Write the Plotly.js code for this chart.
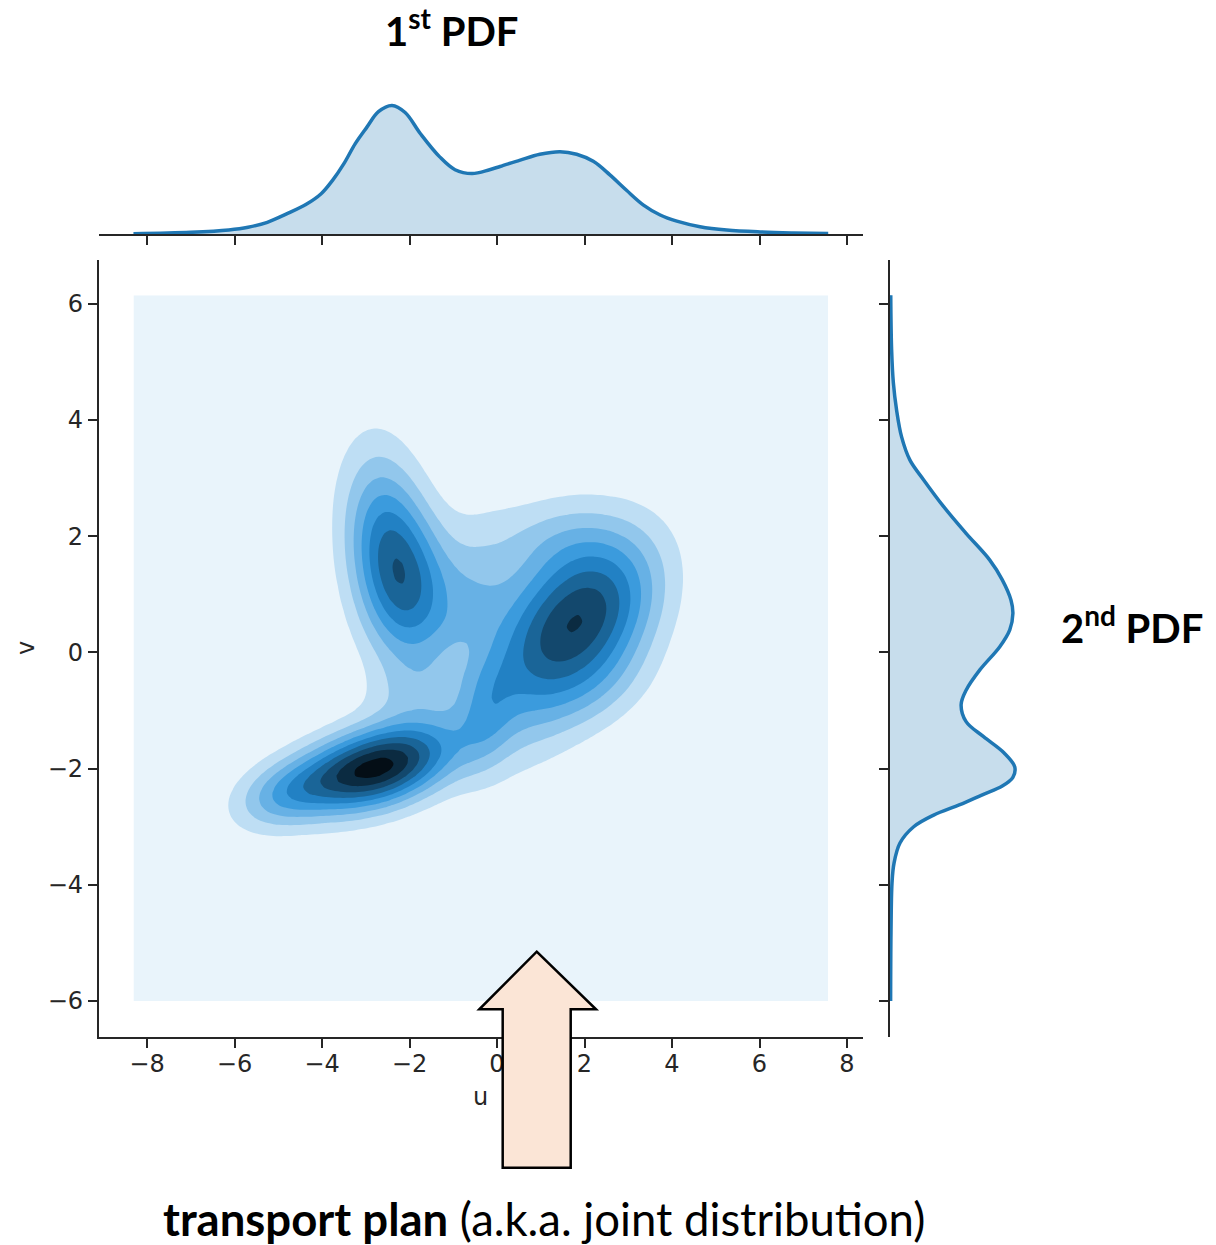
<!DOCTYPE html>
<html>
<head>
<meta charset="utf-8">
<script src="https://cdn.plot.ly/plotly-3.0.1.min.js"></script>
<style>
  html, body { margin: 0; padding: 0; background: #ffffff; }
  #chart { width: 1216px; height: 1245px; }
</style>
</head>
<body>
<div id="chart"></div>
<script>
// ---- joint density of (u, v): Gaussian mixture components ----
const compWeight = [0.105, 0.100, 0.035, 0.180, 0.060, 0.218, 0.173, 0.022, 0.011, 0.025, 0.020, 0.012, 0.012, 0.0035];
const compMeanU  = [-3.30, -2.20, -4.90, -2.45, -1.60, 0.95, 2.40, -0.25, -0.30, 1.40, 2.30, -0.45, -1.90, -0.70];
const compMeanV  = [-2.05, -1.90, -2.45, 1.60, 1.00, 0.10, 0.75, -1.00, 1.95, 2.00, -0.60, 1.15, -0.65, 0.50];
const compSdU    = [1.05, 1.05, 0.80, 0.70, 0.70, 1.05, 1.00, 0.45, 0.70, 1.10, 0.90, 0.55, 0.80, 0.50];
const compSdV    = [0.50, 0.52, 0.42, 1.20, 0.90, 1.15, 0.90, 0.70, 0.55, 0.50, 0.55, 0.45, 0.40, 0.30];
const compRho    = [0.35, 0.40, 0.30, -0.25, -0.20, 0.35, 0.30, 0.20, 0.00, 0.00, 0.30, 0.00, 0.20, 0.00];

// support of the density estimate
const uSupport = [-8.31, 7.57];
const vSupport = [-6.00, 6.15];
const gridSize = 120;

// ---- marginal densities (relative height) ----
const margU = [-8.31, -7.0, -6.13, -5.69, -5.25, -4.81, -4.37, -4.02, -3.76, -3.50, -3.24, -2.97,
               -2.71, -2.40, -2.10, -1.75, -1.31, -0.96, -0.57, -0.17, 0.07, 0.53, 0.98, 1.44,
               1.82, 2.20, 2.58, 2.96, 3.34, 3.73, 4.11, 4.64, 5.25, 6.01, 6.77, 7.57];
const margUDensity = [0.002, 0.013, 0.031, 0.052, 0.091, 0.156, 0.229, 0.313, 0.417, 0.547, 0.703, 0.833,
                      0.951, 1.000, 0.945, 0.780, 0.600, 0.500, 0.470, 0.500, 0.525, 0.575, 0.620, 0.640,
                      0.620, 0.565, 0.460, 0.340, 0.227, 0.148, 0.100, 0.057, 0.031, 0.016, 0.008, 0.003];

const margV = [6.15, 5.21, 4.64, 4.17, 3.71, 3.31, 2.97, 2.51, 2.05, 1.59, 1.25, 0.90, 0.67, 0.39,
               0.10, -0.30, -0.65, -0.90, -1.19, -1.45, -1.73, -1.97, -2.15, -2.30, -2.45, -2.62,
               -2.80, -3.00, -3.28, -3.63, -3.97, -4.83, -6.00];
const margVDensity = [0.006, 0.013, 0.027, 0.053, 0.093, 0.160, 0.270, 0.430, 0.610, 0.800, 0.900, 0.970,
                      0.985, 0.960, 0.880, 0.720, 0.610, 0.570, 0.610, 0.750, 0.915, 1.000, 0.985, 0.900,
                      0.740, 0.560, 0.350, 0.190, 0.080, 0.032, 0.016, 0.008, 0.005];

const uTicks = [-8, -6, -4, -2, 0, 2, 4, 6, 8];
const vTicks = [-6, -4, -2, 0, 2, 4, 6];

// filled band colours, lowest band first
const bandColors = ['#e9f4fb', '#bedef4', '#92c7ec', '#67b1e5', '#3b9bdd',
                    '#2281c4', '#1a6598', '#13486d', '#0b2b41', '#040e16'];

function mixtureDensity(u, v) {
  let s = 0;
  for (let i = 0; i < compWeight.length; i++) {
    const sx = compSdU[i], sy = compSdV[i], r = compRho[i];
    const zx = (u - compMeanU[i]) / sx, zy = (v - compMeanV[i]) / sy;
    const q = (zx * zx - 2 * r * zx * zy + zy * zy) / (1 - r * r);
    s += compWeight[i] * Math.exp(-0.5 * q) / (2 * Math.PI * sx * sy * Math.sqrt(1 - r * r));
  }
  return s;
}

const uGrid = [], vGrid = [];
for (let i = 0; i < gridSize; i++) {
  uGrid.push(uSupport[0] + i * (uSupport[1] - uSupport[0]) / (gridSize - 1));
  vGrid.push(vSupport[0] + i * (vSupport[1] - vSupport[0]) / (gridSize - 1));
}
let zMax = 0;
const zGrid = vGrid.map(v => uGrid.map(u => {
  const d = mixtureDensity(u, v);
  if (d > zMax) zMax = d;
  return d;
}));
// evenly spaced levels, the highest peak sitting inside the ninth level band
const levelStep = zMax / 9.5;
const nBands = bandColors.length;
const colorscale = bandColors.map((c, i) => [i / (nBands - 1), c]);

const W = 1216, H = 1245;
const px = x => x / W;
const py = y => 1 - y / H;

const ink = '#262626';
const tickFont = { family: 'DejaVu Sans, sans-serif', size: 24, color: ink };
const blue = '#1f77b4';

const traces = [
  {
    type: 'contour', x: uGrid, y: vGrid, z: zGrid, xaxis: 'x', yaxis: 'y',
    autocontour: false,
    contours: { start: levelStep, end: levelStep * 9, size: levelStep, coloring: 'fill', showlines: false },
    line: { width: 0, smoothing: 1 },
    colorscale: colorscale, showscale: false, hoverinfo: 'skip'
  },
  {
    type: 'scatter', mode: 'lines', x: margU, y: margUDensity, xaxis: 'x2', yaxis: 'y2',
    line: { color: blue, width: 3.5, shape: 'spline', smoothing: 1 },
    fill: 'tozeroy', fillcolor: 'rgba(31,119,180,0.25)', hoverinfo: 'skip'
  },
  {
    type: 'scatter', mode: 'lines', x: margVDensity, y: margV, xaxis: 'x3', yaxis: 'y3',
    line: { color: blue, width: 3.5, shape: 'spline', smoothing: 1 },
    fill: 'tozerox', fillcolor: 'rgba(31,119,180,0.25)', hoverinfo: 'skip'
  }
];

const mainX = [px(98.9), px(862.75)];
const mainY = [py(1036.5), py(259.7)];
const uRange = [-9.10, 8.36];
const vRange = [-6.61, 6.76];

const axisLine = { showline: true, linecolor: ink, linewidth: 2, ticks: 'outside', ticklen: 9,
                   tickwidth: 2, tickcolor: ink, showgrid: false, zeroline: false };

// block arrow outline (pixel positions on the page)
const arrowPts = [[536.7, 951.7], [596, 1009.3], [570.7, 1009.3], [570.7, 1167.7],
                  [502.7, 1167.7], [502.7, 1009.3], [479.3, 1009.3]];
const arrowPath = 'M ' + arrowPts.map(p => px(p[0]).toFixed(5) + ',' + py(p[1]).toFixed(5)).join(' L ') + ' Z';

const layout = {
  width: W, height: H,
  margin: { l: 0, r: 0, t: 0, b: 0 },
  paper_bgcolor: '#ffffff', plot_bgcolor: 'rgba(0,0,0,0)',
  showlegend: false,
  xaxis: Object.assign({}, axisLine, { domain: mainX, range: uRange, anchor: 'y', tickvals: uTicks,
                        tickfont: tickFont, ticklabelstandoff: -4 }),
  yaxis: Object.assign({}, axisLine, { domain: mainY, range: vRange, anchor: 'x', tickvals: vTicks,
                        tickfont: tickFont, ticklabelstandoff: 0 }),
  xaxis2: Object.assign({}, axisLine, { domain: mainX, range: uRange, anchor: 'y2', tickvals: uTicks,
                         showticklabels: false }),
  yaxis2: { domain: [py(234), py(99)], range: [0, 1.05], anchor: 'x2', visible: false, fixedrange: true },
  xaxis3: { domain: [px(890), px(1021)], range: [0, 1.05], anchor: 'y3', visible: false },
  yaxis3: Object.assign({}, axisLine, { domain: mainY, range: vRange, anchor: 'x3', tickvals: vTicks,
                         showticklabels: false }),
  shapes: [
    { type: 'path', xref: 'paper', yref: 'paper', path: arrowPath,
      fillcolor: '#fbe5d6', line: { color: '#000000', width: 2.5 }, layer: 'above' }
  ],
  annotations: [
    { text: 'u', xref: 'paper', yref: 'paper', x: px(480.8), y: py(1097), showarrow: false,
      xanchor: 'center', yanchor: 'middle', font: { family: 'DejaVu Sans, sans-serif', size: 24, color: ink } },
    { text: 'v', xref: 'paper', yref: 'paper', x: px(26), y: py(648), showarrow: false, textangle: -90,
      xanchor: 'center', yanchor: 'middle', font: { family: 'DejaVu Sans, sans-serif', size: 24, color: ink } },
    { text: '<b>1<sup>st</sup> PDF</b>', xref: 'paper', yref: 'paper', x: px(451), y: py(28), showarrow: false,
      xanchor: 'center', yanchor: 'middle', font: { family: 'Lato, sans-serif', size: 40, color: '#000000' } },
    { text: '<b>2<sup>nd</sup> PDF</b>', xref: 'paper', yref: 'paper', x: px(1132), y: py(625), showarrow: false,
      xanchor: 'center', yanchor: 'middle', font: { family: 'Lato, sans-serif', size: 40, color: '#000000' } },
    { text: '<b>transport plan</b> (a.k.a. joint distribution)', xref: 'paper', yref: 'paper',
      x: px(544), y: py(1218), showarrow: false, xanchor: 'center', yanchor: 'middle',
      font: { family: 'Lato, sans-serif', size: 45.5, color: '#000000' } }
  ]
};

Plotly.newPlot('chart', traces, layout, { staticPlot: true, displayModeBar: false });
</script>
</body>
</html>
